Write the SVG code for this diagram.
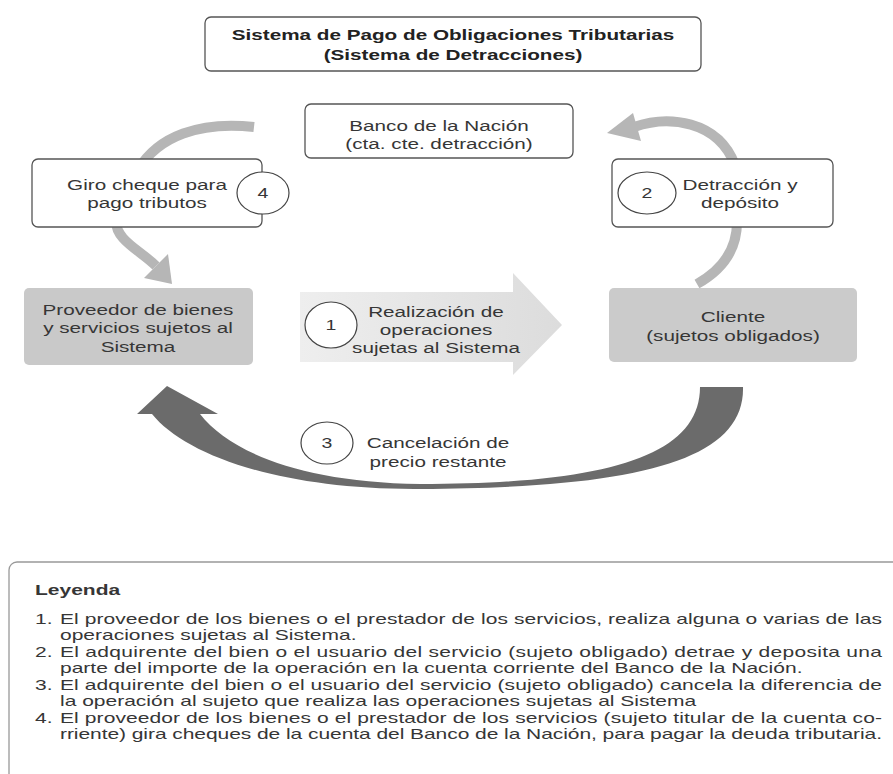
<svg xmlns="http://www.w3.org/2000/svg" width="893" height="774" viewBox="0 0 893 774">
<defs>
<style>
.t{font-family:"Liberation Sans",Arial,sans-serif;font-size:15px;fill:#363636}
.b{font-weight:bold;fill:#222}
.lg{font-family:"Liberation Sans",Arial,sans-serif;font-size:14.2px;fill:#363636}
.box{fill:#fff;stroke:#555;stroke-width:1.3}
.gbox{stroke:none}
.num{fill:#fff;stroke:#444;stroke-width:1.2}
.arc{fill:none;stroke:#b6b6b6;stroke-width:10}
.head{fill:#b6b6b6}
</style>
<linearGradient id="g1" x1="0" y1="0" x2="1" y2="0">
<stop offset="0" stop-color="#eeeeee"/>
<stop offset="1" stop-color="#dcdcdc"/>
</linearGradient>
</defs>
<rect width="893" height="774" fill="#fff"/>

<g id="connectors">
  <path class="arc" d="M 254,127 C 200,121 158,136 138,170"/>
  <path class="arc" d="M 116,220 C 115,240 140,250 156,266"/>
  <polygon class="head" points="168,254 144,278 172,284"/>
  <path class="arc" d="M 634,127 C 668,115 718,120 735,165"/>
  <path class="arc" d="M 737,222 C 737,250 722,270 697,284"/>
  <polygon class="head" points="607,133 633,113 641,141"/>
  <polygon id="arrow1" fill="url(#g1)" points="300,292 513,292 513,273 562,325 513,375 513,362 300,362"/>
  <path id="arrow3" fill="#6b6b6b" d="M 743,387 C 745,460 640,488 420,489 C 280,490 185,455 152,414 L 137,414 L 167,386 L 218,414 L 200,414 C 230,452 300,482 420,484 C 610,484 700,455 700,387 Z"/>
</g>

<g id="title">
  <rect class="box" x="205" y="17" width="496" height="54" rx="6"/>
  <text class="t b" font-size="15.2" transform="translate(453 0) scale(1.38 1)" text-anchor="middle"><tspan x="0" y="40.5">Sistema de Pago de Obligaciones Tributarias</tspan><tspan x="0" y="60">(Sistema de Detracciones)</tspan></text>
</g>

<g id="banco">
  <rect class="box" x="305" y="104" width="268" height="54" rx="6"/>
  <text class="t" transform="translate(439 0) scale(1.38 1)" text-anchor="middle"><tspan x="0" y="131">Banco de la Nación</tspan><tspan x="0" y="149">(cta. cte. detracción)</tspan></text>
</g>

<g id="giro">
  <rect class="box" x="32" y="159" width="230" height="68" rx="6"/>
  <text class="t" transform="translate(147 0) scale(1.38 1)" text-anchor="middle"><tspan x="0" y="190">Giro cheque para</tspan><tspan x="0" y="208">pago tributos</tspan></text>
  <ellipse class="num" cx="263" cy="193" rx="26" ry="21"/>
  <text class="t" transform="translate(263 0) scale(1.3 1)" text-anchor="middle" y="198.5">4</text>
</g>

<g id="detraccion">
  <rect class="box" x="612" y="159" width="221" height="68" rx="6"/>
  <ellipse class="num" cx="647" cy="193" rx="29" ry="21"/>
  <text class="t" transform="translate(647 0) scale(1.3 1)" text-anchor="middle" y="198.5">2</text>
  <text class="t" transform="translate(740 0) scale(1.38 1)" text-anchor="middle"><tspan x="0" y="190">Detracción y</tspan><tspan x="0" y="208">depósito</tspan></text>
</g>

<g id="proveedor">
  <rect class="gbox" x="24" y="288" width="229" height="77" rx="5" fill="#c9c9c9"/>
  <text class="t" transform="translate(138 0) scale(1.38 1)" text-anchor="middle"><tspan x="0" y="315">Proveedor de bienes</tspan><tspan x="0" y="333">y servicios sujetos al</tspan><tspan x="0" y="352">Sistema</tspan></text>
</g>

<g id="cliente">
  <rect class="gbox" x="609" y="288" width="248" height="74" rx="5" fill="#cbcbcb"/>
  <text class="t" transform="translate(733 0) scale(1.38 1)" text-anchor="middle"><tspan x="0" y="322">Cliente</tspan><tspan x="0" y="341">(sujetos obligados)</tspan></text>
</g>

<g id="step1">
  <ellipse class="num" cx="331" cy="325" rx="26" ry="23"/>
  <text class="t" transform="translate(331 0) scale(1.3 1)" text-anchor="middle" y="330.5">1</text>
  <text class="t" transform="translate(436 0) scale(1.38 1)" text-anchor="middle"><tspan x="0" y="317">Realización de</tspan><tspan x="0" y="335">operaciones</tspan><tspan x="0" y="353">sujetas al Sistema</tspan></text>
</g>

<g id="step3">
  <ellipse class="num" cx="327" cy="443" rx="26" ry="21"/>
  <text class="t" transform="translate(327 0) scale(1.3 1)" text-anchor="middle" y="448.5">3</text>
  <text class="t" transform="translate(438 0) scale(1.38 1)" text-anchor="middle"><tspan x="0" y="448">Cancelación de</tspan><tspan x="0" y="467">precio restante</tspan></text>
</g>

<g id="legend">
  <rect x="9" y="562" width="900" height="240" rx="8" fill="none" stroke="#999" stroke-width="1.3"/>
  <g transform="scale(1.48 1)">
    <text class="lg b" font-size="14.8" x="23.65" y="595">Leyenda</text>
    <text class="lg" x="23.65" y="624">1.</text>
    <text class="lg" x="40.54" y="624" textLength="555.4" lengthAdjust="spacing">El proveedor de los bienes o el prestador de los servicios, realiza alguna o varias de las</text>
    <text class="lg" x="40.54" y="640.5">operaciones sujetas al Sistema.</text>
    <text class="lg" x="23.65" y="657">2.</text>
    <text class="lg" x="40.54" y="657" textLength="555.4" lengthAdjust="spacing">El adquirente del bien o el usuario del servicio (sujeto obligado) detrae y deposita una</text>
    <text class="lg" x="40.54" y="673.5">parte del importe de la operación en la cuenta corriente del Banco de la Nación.</text>
    <text class="lg" x="23.65" y="690">3.</text>
    <text class="lg" x="40.54" y="690" textLength="555.4" lengthAdjust="spacing">El adquirente del bien o el usuario del servicio (sujeto obligado) cancela la diferencia de</text>
    <text class="lg" x="40.54" y="706.5">la operación al sujeto que realiza las operaciones sujetas al Sistema</text>
    <text class="lg" x="23.65" y="723">4.</text>
    <text class="lg" x="40.54" y="723" textLength="555.4" lengthAdjust="spacing">El proveedor de los bienes o el prestador de los servicios (sujeto titular de la cuenta co-</text>
    <text class="lg" x="40.54" y="739.5" textLength="555.4" lengthAdjust="spacing">rriente) gira cheques de la cuenta del Banco de la Nación, para pagar la deuda tributaria.</text>
  </g>
</g>
</svg>
